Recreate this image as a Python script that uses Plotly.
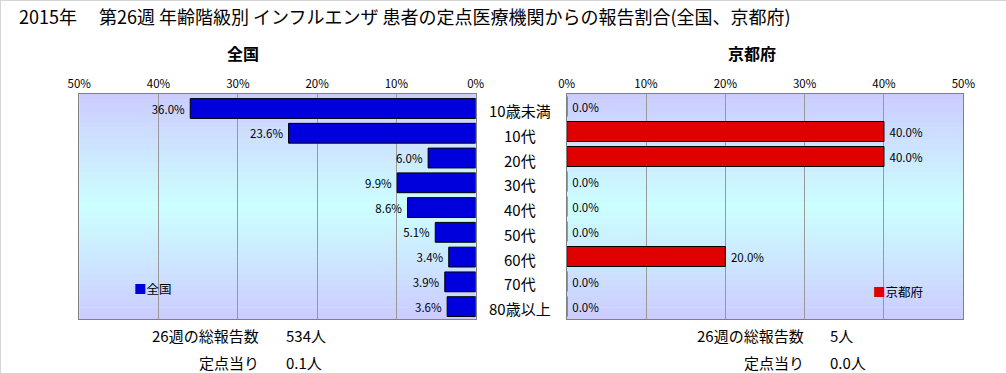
import plotly.graph_objects as go

# ---- data ----
categories = ["10歳未満", "10代", "20代", "30代", "40代", "50代", "60代", "70代", "80歳以上"]
national_pct = [36.0, 23.6, 6.0, 9.9, 8.6, 5.1, 3.4, 3.9, 3.6]
kyoto_pct = [0.0, 40.0, 40.0, 0.0, 0.0, 0.0, 20.0, 0.0, 0.0]
tick_vals = [0, 10, 20, 30, 40, 50]
tick_text = ["0%", "10%", "20%", "30%", "40%", "50%"]
title_text = "2015年　 第26週 年齢階級別 インフルエンザ 患者の定点医療機関からの報告割合(全国、京都府)"
panel_names = ["全国", "京都府"]
total_label = "26週の総報告数"
per_label = "定点当り"
national_total = "534人"
national_per = "0.1人"
kyoto_total = "5人"
kyoto_per = "0.0人"

W, H = 1006, 373
FONT = "Noto Sans CJK JP"


def px(x):
    return x / W


def py(y):
    return 1 - y / H


L_DOM = [px(79.2), px(475.7)]
R_DOM = [px(566.7), px(963.3)]
Y_DOM = [py(319), py(94)]

fig = go.Figure()

fig.add_trace(go.Bar(
    y=categories, x=national_pct, orientation="h", name=panel_names[0],
    marker=dict(color="#0000DD", line=dict(color="#000000", width=1)),
    texttemplate="%{x:.1f}%\u00a0", textposition="outside",
    textfont=dict(family=FONT, size=11.5, color="#000000"),
    cliponaxis=False, xaxis="x", yaxis="y", showlegend=False,
))
fig.add_trace(go.Bar(
    y=categories, x=kyoto_pct, orientation="h", name=panel_names[1],
    marker=dict(color="#E00000", line=dict(color="#000000", width=1)),
    texttemplate="\u00a0%{x:.1f}%", textposition="outside",
    textfont=dict(family=FONT, size=11.5, color="#000000"),
    cliponaxis=False, xaxis="x2", yaxis="y2", showlegend=False,
))

axis_common = dict(
    side="top", tickmode="array", tickvals=tick_vals, ticktext=tick_text,
    tickfont=dict(family=FONT, size=11.5, color="#000000"),
    showgrid=True, gridcolor="#999999", gridwidth=1,
    showline=True, linecolor="#808080", linewidth=1, mirror=True,
    zeroline=False, ticks="", fixedrange=True, automargin=False,
)
yaxis_common = dict(
    categoryorder="array", categoryarray=categories, autorange="reversed",
    showticklabels=False, showgrid=False, zeroline=False,
    showline=True, linecolor="#808080", linewidth=1, mirror=True,
    ticks="", domain=Y_DOM, fixedrange=True, automargin=False,
)

fig.update_layout(
    width=W, height=H, autosize=False,
    margin=dict(l=0, r=0, t=0, b=0, pad=0, autoexpand=False),
    paper_bgcolor="#FFFFFF", plot_bgcolor="rgba(0,0,0,0)",
    bargap=0.2,
    font=dict(family=FONT, color="#000000"),
    xaxis=dict(axis_common, domain=L_DOM, range=[50, 0], anchor="y"),
    yaxis=dict(yaxis_common, anchor="x"),
    xaxis2=dict(axis_common, domain=R_DOM, range=[0, 50], anchor="y2"),
    yaxis2=dict(yaxis_common, anchor="x2"),
)

# gradient plot backgrounds (lavender edges -> light cyan centre)
shapes = []
N = 40
edge = (204, 204, 255)
centre = (204, 255, 255)
for xr, yr in (("x domain", "y domain"), ("x2 domain", "y2 domain")):
    for i in range(N):
        t0, t1 = i / N, (i + 1) / N
        tm = (t0 + t1) / 2
        f = 1 - abs(tm - 0.5) * 2  # 0 at edges, 1 at centre
        c = tuple(round(edge[k] + (centre[k] - edge[k]) * f) for k in range(3))
        shapes.append(dict(
            type="rect", xref=xr, yref=yr, x0=0, x1=1, y0=t0, y1=t1 + 0.002,
            fillcolor="rgb(%d,%d,%d)" % c, line=dict(width=0), layer="below",
        ))
# outer frame lines (top and left)
shapes.append(dict(type="line", xref="paper", yref="paper", x0=0, x1=1, y0=1, y1=1,
                   line=dict(color="#D4D4D4", width=2)))
shapes.append(dict(type="line", xref="paper", yref="paper", x0=0, x1=0, y0=0, y1=1,
                   line=dict(color="#D4D4D4", width=2)))
fig.update_layout(shapes=shapes)

ann = []
ann.append(dict(text=title_text, xref="paper", yref="paper", x=px(17), y=py(16),
                xanchor="left", yanchor="middle", showarrow=False,
                font=dict(family=FONT, size=18, color="#000000")))
ann.append(dict(text="<b>%s</b>" % panel_names[0], xref="paper", yref="paper",
                x=px(243), y=py(53), xanchor="center", yanchor="middle", showarrow=False,
                font=dict(family=FONT, size=16, color="#000000")))
ann.append(dict(text="<b>%s</b>" % panel_names[1], xref="paper", yref="paper",
                x=px(752), y=py(53), xanchor="center", yanchor="middle", showarrow=False,
                font=dict(family=FONT, size=16, color="#000000")))
# category labels between the panels
for c in categories:
    ann.append(dict(text=c, xref="paper", yref="y", x=px(520), y=c, yshift=-2,
                    xanchor="center", yanchor="middle", showarrow=False,
                    font=dict(family=FONT, size=15, color="#000000")))
# legends
ann.append(dict(text='<span style="color:#0000DD">■</span>%s' % panel_names[0],
                xref="paper", yref="paper", x=px(132), y=py(288), xanchor="left",
                yanchor="middle", showarrow=False,
                font=dict(family=FONT, size=12.5, color="#000000")))
ann.append(dict(text='<span style="color:#E00000">■</span>%s' % panel_names[1],
                xref="paper", yref="paper", x=px(871), y=py(291), xanchor="left",
                yanchor="middle", showarrow=False,
                font=dict(family=FONT, size=12.5, color="#000000")))
# bottom summary text
for lab_x, val_x, tot, per in ((261, 284, national_total, national_per),
                               (806, 828, kyoto_total, kyoto_per)):
    for yy, lab, val in ((335, total_label, tot), (362, per_label, per)):
        ann.append(dict(text=lab, xref="paper", yref="paper", x=px(lab_x), y=py(yy),
                        xanchor="right", yanchor="middle", showarrow=False,
                        font=dict(family=FONT, size=15, color="#000000")))
        ann.append(dict(text=val, xref="paper", yref="paper", x=px(val_x), y=py(yy),
                        xanchor="left", yanchor="middle", showarrow=False,
                        font=dict(family=FONT, size=15, color="#000000")))
fig.update_layout(annotations=ann)

fig.write_html("out.html", config={"displayModeBar": False},
               post_script="document.body.style.margin='0px';document.body.style.overflow='hidden';")
